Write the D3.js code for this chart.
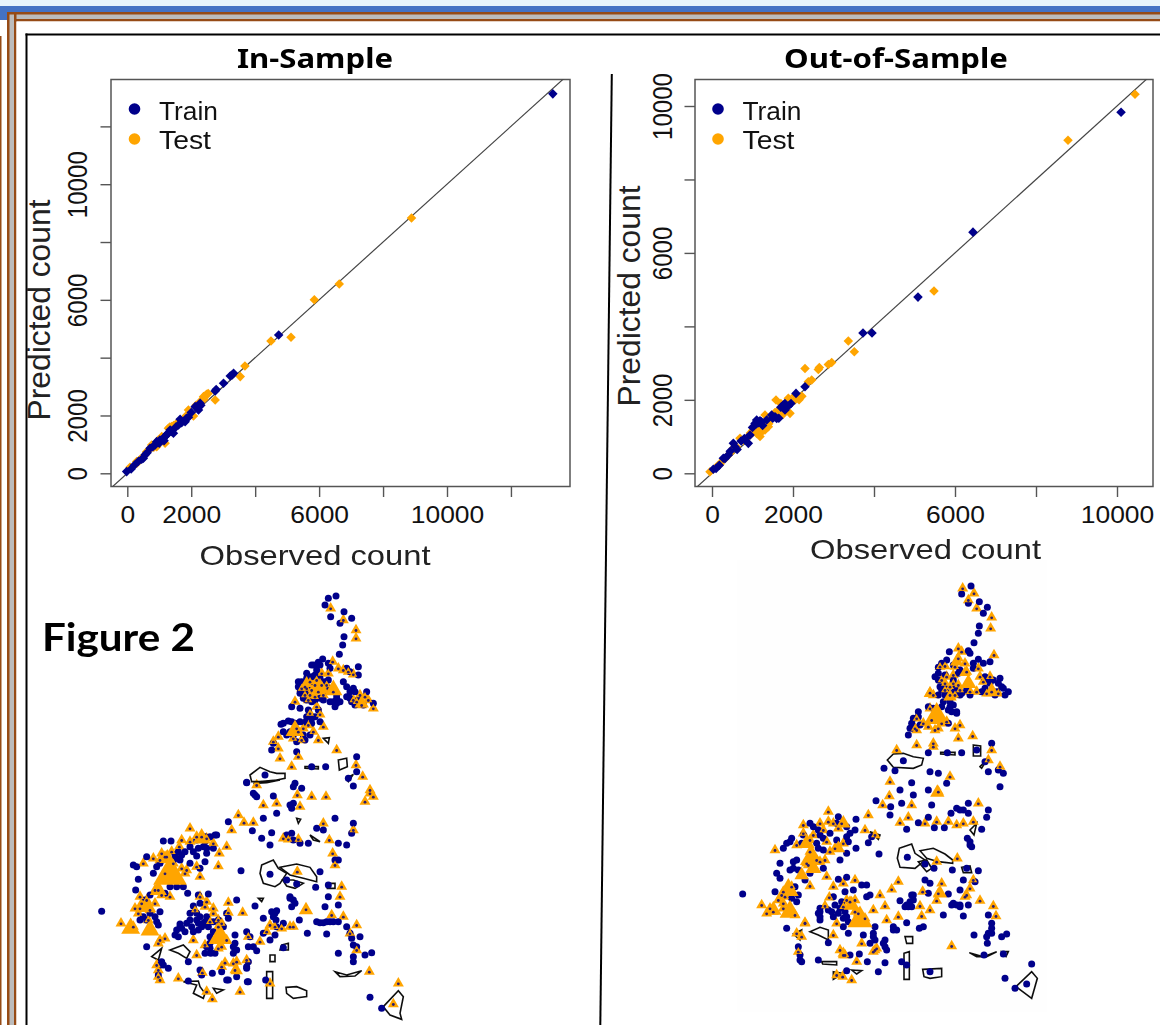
<!DOCTYPE html>
<html><head><meta charset="utf-8">
<script src="https://cdn.jsdelivr.net/npm/d3@7"></script>
<style>html,body{margin:0;padding:0;background:#fff;overflow:hidden}svg{display:block}</style>
</head><body><svg id="c" width="1160" height="1025"></svg>
<script>
const NAVY="#00008b", ORANGE="#ffa500";
const tickValues=[0,2000,4000,6000,8000,10000,12000];
const labelledTicks=[0,2000,6000,10000];
const seriesNames=["Train","Test"];

// Scatter values: [observed, predicted]
const inTest=[[8890,8830],[6630,6550],[5850,6000],[5121,4704],[4494,4577],[3679,3713],[3533,3344],[2749,2537],[2488,2733],[2384,2652],[1913,2191],[2070,1983],[1391,1614],[1548,1730],[1286,1557],[1077,1268],[972,1153],[606,749],[294,404],[85,208],[764,980],[1182,1038],[920,922],[1756,1868],[2279,2479],[1450,1650],[1330,1600],[300,350],[400,480],[520,600],[680,820],[830,900],[1000,1130],[1100,1200],[1200,1300],[1380,1500],[1500,1600],[1650,1800],[1850,2000],[1980,2100],[2150,2350],[2400,2560],[2530,2760],[2450,2700]];
const inTrain=[[13310,13125],[4735,4785],[3010,3113],[3324,3459],[3220,3367],[2749,2848],[2279,2421],[2122,2306],[2227,2191],[1913,1937],[1652,1868],[1809,1787],[1286,1384],[1443,1384],[920,1095],[712,865],[450,484],[-20,58],[1130,1211],[868,980],[503,519],[1600,1672],[1339,1499],[120,150],[220,280],[350,420],[560,640],[620,710],[800,920],[1000,1040],[1020,1150],[1180,1270],[1240,1350],[1380,1450],[1520,1600],[1700,1750],[1850,1900],[2000,2100],[2180,2280],[2300,2350],[3280,3400],[2780,2900],[1150,1130]];
const outTest=[[8790,9070],[10445,10320],[5481,4961],[3366,3600],[3514,3309],[2296,2856],[2650,2883],[2955,3019],[2873,2965],[2461,2538],[1926,1632],[2173,2085],[1885,2040],[1580,1994],[2050,1994],[1309,1586],[1391,1269],[1309,1178],[691,951],[1021,1178],[1103,1087],[527,679],[280,362],[157,226],[-49,44],[1638,1722],[897,1000],[445,543],[1185,1000],[2626,2829],[2379,2493],[200,250],[350,430],[600,720],[780,900],[950,1100],[1120,1200],[1250,1150],[1400,1350],[1450,1500],[1550,1650],[1750,1600],[2050,2120],[2150,2000],[2220,2100],[1700,1900],[1000,1150]];
const outTrain=[[10100,9830],[6444,6566],[5086,4797],[3728,3817],[3951,3817],[2296,2357],[2074,2176],[1761,1858],[1885,1831],[1803,1722],[1556,1541],[1185,1432],[1062,1359],[1473,1586],[938,1042],[897,815],[568,725],[403,498],[280,407],[33,108],[1103,1450],[1597,1495],[815,906],[527,815],[100,130],[180,220],[320,400],[450,600],[620,650],[720,880],[800,950],[1000,1250],[1150,1380],[1250,1300],[1350,1450],[1500,1500],[1650,1500],[1700,1800],[1800,1900],[1950,1900],[1100,1350],[1220,1400]];

// Map sites, south part of each map: [grid x, grid y]; big = [grid x, grid y, marker side]
const leftSouthTrain=[[470,8],[490,40],[500,50],[550,48],[610,20],[635,25],[790,18],[610,70],[605,85],[560,100],[520,115],[415,125],[487,152],[545,158],[515,175],[540,195],[605,160],[655,190],[680,145],[700,150],[735,115],[790,130],[785,160],[770,195],[745,190],[630,190],[220,183],[243,183],[375,165],[345,185],[370,205],[260,235],[275,225],[320,228],[350,220],[345,245],[330,265],[300,250],[170,230],[130,255],[140,260],[145,298],[137,330],[35,394],[180,345],[210,395],[195,410],[293,340],[325,345],[355,342],[330,370],[310,378],[300,400],[290,430],[270,440],[265,470],[255,465],[320,420],[335,440],[350,410],[325,450],[370,455],[360,505],[362,520],[345,520],[295,545],[170,500],[415,415],[435,465],[440,510],[430,520],[470,455],[480,470],[490,500],[500,512],[520,415],[495,378],[540,480],[555,400],[560,392],[558,420],[600,350],[610,360],[605,380],[628,420],[652,460],[710,462],[680,425],[700,428],[720,425],[745,425],[705,380],[715,350],[677,322],[715,315],[745,375],[690,275],[620,312],[590,300],[540,283],[453,272],[745,240],[735,240],[840,652],[875,685],[745,520],[790,545],[825,525],[845,518],[810,470],[770,440],[790,495],[472,605],[415,600],[527,600],[470,565],[475,545],[395,575],[367,580],[330,570],[235,565],[215,545],[580,503],[295,603],[440,590],[440,360],[410,400],[300,420],[330,410],[340,430],[260,450],[275,445],[270,432],[350,500],[610,180],[255,225],[265,215],[250,240],[270,240],[285,215],[300,200],[320,180],[360,170],[345,170],[380,165],[340,200],[350,205],[325,205],[310,215],[200,260],[210,250],[190,280],[225,340],[240,320],[260,320],[280,320],[165,360],[180,400],[160,410],[150,420],[170,420],[200,425],[205,435],[320,400],[325,430],[345,425],[305,440],[285,455],[310,455],[355,440],[370,425],[385,420],[400,440],[430,500],[435,490],[470,560],[475,500],[545,395],[550,410],[600,355],[615,370],[690,428],[710,425],[730,425],[780,460],[785,475],[800,500],[790,530],[360,470],[375,520],[360,490],[410,600],[335,585],[220,555],[205,585],[210,555],[475,605],[600,75],[495,45],[590,165],[520,460],[555,465],[560,440],[580,430]];
const leftSouthTest=[[500,15],[622,45],[665,50],[708,50],[840,30],[825,65],[850,50],[445,105],[462,128],[490,128],[425,150],[560,70],[520,75],[630,80],[700,130],[790,150],[580,175],[595,178],[625,178],[718,180],[728,220],[735,255],[300,145],[335,170],[300,185],[230,230],[190,235],[160,250],[268,200],[410,200],[388,220],[385,258],[320,260],[290,270],[330,290],[285,280],[150,350],[205,330],[240,350],[150,385],[135,385],[195,370],[93,430],[130,440],[210,480],[330,350],[350,365],[370,385],[415,368],[315,390],[415,398],[458,398],[385,440],[310,480],[345,495],[385,505],[320,525],[475,470],[510,485],[540,435],[575,445],[610,440],[760,410],[800,435],[725,405],[648,388],[755,320],[750,350],[622,275],[800,510],[780,460],[405,548],[470,540],[435,570],[395,560],[205,570],[210,600],[265,595],[337,578],[350,635],[450,635],[367,657],[540,610],[838,575],[925,610],[910,672],[215,220],[245,215],[210,240],[250,250],[225,280],[275,265],[195,330],[215,345],[170,360],[155,370],[145,400],[180,390],[175,420],[205,490],[225,475],[345,380],[370,400],[385,420],[395,430],[360,425],[410,480],[395,500],[225,230],[320,170],[350,175],[370,190],[275,180],[600,440],[555,440],[530,455],[205,590],[200,555],[430,550],[440,545],[840,40]];
const leftSouthBig=[[240,285,75],[205,330,38],[122,445,42],[180,450,42],[390,472,52],[648,390,32],[440,572,28],[170,380,42],[335,175,40],[232,235,36]];
const leftSouthAreas=[[[515,255],[550,240],[565,265],[590,280],[570,310],[555,320],[520,310],[510,280]],[[570,262],[620,252],[660,262],[680,290],[680,305],[640,295],[600,285]],[[578,300],[610,300],[640,310],[615,325],[590,318]],[[240,510],[280,495],[300,515],[290,535],[265,520]],[[185,530],[215,505],[205,540]],[[530,575],[548,575],[548,655],[530,655]],[[588,622],[620,620],[650,632],[650,650],[610,655],[590,640]],[[735,575],[770,585],[815,572],[795,588],[750,590]],[[880,680],[925,632],[940,650],[930,700],[935,718],[900,705]],[[280,605],[325,603],[330,620],[345,640],[340,655],[310,640],[320,615]],[[370,625],[400,630],[380,640]],[[540,525],[555,525],[555,545],[540,545]],[[575,495],[595,490],[595,510],[570,510]],[[710,310],[735,310],[735,325],[712,325]],[[660,165],[690,185],[670,180]],[[620,115],[632,118],[625,130]],[[490,10],[570,0],[530,8]],[[505,355],[520,355],[515,365]]];

const leftNorthTrain=[[288,33],[265,40],[255,60],[272,95],[312,80],[335,100],[300,115],[312,155],[308,180],[298,208],[248,222],[222,240],[270,250],[355,245],[330,260],[355,270],[310,290],[200,265],[180,310],[190,340],[240,340],[290,355],[270,350],[330,320],[345,320],[380,320],[370,360],[335,350],[400,355],[155,365],[180,370],[235,375],[123,418],[155,410],[180,410],[215,415],[130,440],[140,450],[210,450],[240,410],[100,475],[95,495],[170,500],[257,545],[350,515],[350,560],[325,580],[75,570],[20,592],[215,545],[165,595],[210,300],[185,290],[230,255],[240,240],[290,330],[270,310],[175,290],[175,305],[190,320],[205,320],[200,280],[215,275],[225,270],[240,280],[255,290],[265,285],[255,320],[250,345],[225,345],[215,350],[200,345],[180,325],[290,340],[280,350],[300,350],[285,365],[320,305],[340,310],[320,335],[355,345],[345,360],[330,340],[215,240],[235,232],[205,375],[225,395],[200,395],[165,415],[145,408],[130,415],[195,412],[190,450],[170,470],[195,465],[215,400],[160,450],[150,440],[265,235],[320,250]];
const leftNorthTest=[[272,70],[310,105],[348,135],[348,160],[278,230],[310,255],[340,268],[245,265],[210,290],[195,305],[225,300],[235,320],[210,330],[280,320],[165,350],[230,365],[210,385],[240,388],[360,330],[375,335],[365,360],[400,370],[175,440],[205,420],[250,425],[185,465],[115,455],[100,470],[115,490],[235,465],[290,495],[175,515],[155,545],[348,540],[368,575],[120,520],[200,310],[215,315],[250,330],[260,300],[230,285],[265,265],[245,300],[205,345],[195,330],[225,335],[185,310],[170,430],[160,460],[190,430],[220,440],[350,350],[385,345],[340,345],[295,250],[325,260]];
const leftNorthBig=[[165,437,42],[240,310,40],[280,315,40],[225,310,30],[200,295,28],[365,355,32]];
const leftNorthAreas=[[[30,570],[60,547],[90,560],[110,565],[135,565],[135,580],[110,585],[60,590],[35,590]],[[295,525],[320,520],[322,545],[298,555]],[[195,545],[235,545],[235,552],[195,550]],[[250,460],[268,458],[265,475]],[[318,580],[340,568],[325,590]]];

const rightSouthTrain=[[38,342],[150,250],[140,280],[150,295],[135,335],[180,185],[160,205],[240,130],[220,165],[378,118],[375,150],[350,170],[378,205],[320,180],[355,185],[330,240],[350,220],[190,265],[205,345],[170,445],[195,320],[325,298],[350,292],[410,315],[395,315],[345,335],[370,330],[310,350],[270,385],[270,410],[315,375],[330,385],[265,400],[295,390],[340,440],[355,460],[295,488],[400,465],[430,460],[435,440],[465,480],[465,500],[412,545],[388,522],[360,525],[265,540],[210,540],[205,500],[445,575],[465,548],[515,545],[530,555],[490,450],[510,362],[545,345],[550,360],[535,380],[530,428],[585,300],[600,310],[595,340],[640,405],[655,342],[700,408],[680,375],[665,375],[690,375],[715,375],[732,465],[775,460],[785,445],[815,470],[830,462],[772,490],[775,405],[745,272],[735,305],[700,300],[690,330],[710,265],[667,270],[612,265],[585,252],[532,232],[447,222],[415,188],[425,170],[438,62],[480,105],[482,80],[515,70],[595,112],[530,148],[565,128],[613,143],[643,143],[712,175],[720,195],[755,148],[663,100],[680,85],[715,70],[690,90],[715,100],[775,90],[770,112],[810,20],[650,10],[545,8],[510,30],[550,45],[595,30],[605,75],[905,552],[825,595],[855,625],[890,612],[762,525],[820,522],[600,575],[350,572],[568,445],[580,440],[250,140],[265,150],[270,165],[280,175],[260,190],[265,205],[280,210],[300,160],[320,130],[325,110],[350,140],[360,160],[190,245],[200,240],[180,270],[205,270],[225,300],[240,280],[280,265],[215,190],[185,175],[170,190],[335,365],[345,395],[325,400],[305,395],[310,410],[350,410],[355,425],[420,345],[410,350],[430,470],[435,480],[420,490],[460,490],[470,510],[490,440],[550,345],[540,365],[720,185],[725,200],[785,430],[785,460],[770,470],[700,90],[210,525],[215,545],[185,355],[200,365],[270,420],[340,415],[270,395],[500,450],[530,375],[545,380],[525,380],[690,380],[670,370]];
const rightSouthTest=[[295,95],[335,130],[270,130],[220,135],[135,210],[200,195],[295,125],[250,165],[290,185],[340,190],[230,250],[285,240],[290,290],[240,318],[310,320],[340,310],[375,300],[405,150],[435,165],[458,75],[415,105],[478,48],[545,75],[510,128],[535,112],[585,130],[620,125],[655,125],[680,135],[700,130],[745,70],[730,125],[505,305],[485,328],[635,310],[578,335],[450,345],[298,352],[340,380],[360,365],[285,378],[465,378],[430,390],[470,420],[505,410],[575,408],[600,390],[570,378],[620,362],[705,350],[720,325],[750,362],[790,378],[798,408],[665,498],[395,490],[310,465],[320,430],[205,515],[200,460],[225,428],[130,395],[95,375],[160,370],[155,345],[435,510],[380,545],[340,525],[320,585],[365,600],[338,590],[682,235],[620,245],[625,35],[480,5],[220,160],[240,180],[280,150],[310,130],[325,145],[240,215],[260,240],[235,255],[270,245],[300,215],[315,205],[185,320],[160,335],[165,350],[145,360],[120,385],[110,400],[160,385],[195,405],[375,395],[385,400],[405,415],[350,360],[375,360],[225,430],[215,470],[345,525],[330,510],[440,505],[430,515],[625,340],[710,345],[730,300]];
const rightSouthBig=[[245,235,52],[215,285,32],[175,330,46],[130,390,36],[180,395,46],[390,420,56],[365,375,36],[230,190,36],[630,340,32],[340,520,26],[340,130,32],[622,38,32],[250,265,36],[325,205,30]];
const rightSouthAreas=[[[508,205],[545,192],[555,220],[585,240],[555,265],[510,262],[502,235]],[[570,212],[610,205],[645,222],[668,240],[668,250],[625,245],[590,235]],[[565,245],[590,240],[605,265],[590,275]],[[240,455],[270,442],[295,450],[295,480],[265,465]],[[190,462],[215,450],[210,480]],[[522,520],[538,515],[538,598],[522,598]],[[578,568],[635,565],[635,590],[600,595],[582,590]],[[718,518],[760,530],[800,515],[770,530],[740,530]],[[858,620],[905,575],[922,595],[905,655],[885,640]],[[275,545],[320,545],[320,555],[278,552]],[[365,570],[395,572],[380,582]],[[525,470],[548,470],[548,490],[530,490]],[[695,262],[720,258],[725,278],[700,278]],[[420,155],[450,165],[445,178]],[[720,150],[740,130],[732,165]],[[815,515],[835,515],[828,530]],[[310,575],[340,580],[310,598]]];

const rightNorthTrain=[[303,18],[275,42],[295,70],[328,65],[352,82],[340,100],[328,138],[325,160],[312,188],[238,215],[295,212],[325,238],[360,245],[340,250],[230,240],[205,262],[195,290],[205,300],[215,330],[255,340],[205,345],[345,290],[390,295],[395,320],[415,335],[405,345],[380,335],[335,335],[240,365],[220,365],[260,395],[235,390],[145,395],[125,430],[115,465],[130,445],[235,430],[175,518],[232,518],[275,518],[100,542],[42,565],[75,572],[180,575],[205,580],[365,490],[355,575],[345,545],[385,570],[400,580],[320,510],[250,300],[310,265],[270,270],[240,340],[290,330],[355,295],[370,300],[215,250],[225,285],[210,320],[225,325],[225,345],[255,325],[270,345],[265,280],[310,250],[300,220],[345,300],[360,310],[385,310],[375,345],[400,325],[345,325],[300,345],[275,340],[205,280],[240,380],[250,375],[250,255],[130,415],[120,445],[150,435],[145,410],[175,380],[215,380],[190,385],[260,400],[245,395]];
const rightNorthTest=[[278,25],[312,40],[295,60],[320,85],[365,112],[362,145],[265,205],[265,235],[372,225],[225,258],[325,265],[250,285],[290,275],[360,290],[240,320],[265,315],[215,300],[340,305],[180,338],[240,345],[300,335],[365,335],[180,385],[140,415],[135,445],[205,445],[230,425],[270,435],[255,445],[265,475],[308,468],[140,495],[190,490],[80,510],[365,510],[355,540],[390,560],[240,590],[210,260],[255,260],[275,215],[285,250],[230,290],[225,310],[250,310],[270,330],[255,345],[225,330],[190,345],[330,290],[350,340],[385,340],[320,335],[185,420],[215,430],[175,440],[195,450],[160,430],[190,500],[140,450]];
const rightNorthBig=[[200,410,56],[285,278,26],[295,310,36],[240,350,30],[260,245,30],[365,335,36],[180,340,28]];
const rightNorthAreas=[[[52,540],[70,522],[100,520],[130,530],[160,535],[155,555],[130,565],[70,562]],[[310,495],[332,498],[332,528],[310,528]],[[212,517],[255,517],[255,525],[212,522]],[[330,560],[350,540],[335,565]]];

const svg=d3.select("#c");
const defs=svg.append("defs");
defs.append("filter").attr("id","soft").attr("x","-5%").attr("y","-5%").attr("width","110%").attr("height","110%")
  .append("feGaussianBlur").attr("stdDeviation",0.45);
const SANS="'Liberation Sans',Arial,sans-serif";

function rect(x,y,w,h,fill){svg.append("rect").attr("x",x).attr("y",y).attr("width",w).attr("height",h).attr("fill",fill);}
function text(g,s,x,y,o){
  const t=g.append("text").text(s).attr("x",x).attr("y",y)
    .attr("font-family",o.family||SANS).attr("font-size",o.size).attr("fill",o.fill||"#111")
    .attr("font-weight",o.weight||"normal").attr("text-anchor",o.anchor||"start");
  if(o.len){t.attr("textLength",o.len).attr("lengthAdjust","spacingAndGlyphs");}
  if(o.rotate){t.attr("transform",`rotate(-90 ${x} ${y})`);}
  return t;
}

// page frame
rect(0,0,1160,6,"#e6f3fc");
rect(0,6,1160,6,"#4472c4");
rect(0,12,7,8,"#4472c4");
rect(7,12,1153,9.5,"#964b16");
rect(9.5,14.5,1151,4.5,"#bcbcbc");
rect(7,12,9.5,1013,"#964b16");
rect(9.5,14.5,4.5,1011,"#bcbcbc");
rect(16.5,21.5,1144,1004,"#fff");
rect(0,36,1.5,989,"#964b16");
rect(25.5,33.5,1135,2,"#000");
rect(25.5,33.5,2,992,"#000");
svg.append("line").attr("x1",611.8).attr("y1",74).attr("x2",600.3).attr("y2",1025).attr("stroke","#000").attr("stroke-width",2);

function scatter(cfg){
  const x=d3.scaleLinear().domain([0,10000]).range([cfg.x0,cfg.x10]);
  const y=d3.scaleLinear().domain([0,10000]).range([cfg.y0,cfg.y10]);
  const g=svg.append("g");
  const fmt=d=>labelledTicks.includes(d)?d:"";
  const xt=tickValues.filter(v=>x(v)<cfg.right), yt=tickValues.filter(v=>y(v)>cfg.top);
  const ax=d3.axisBottom(x).tickValues(xt).tickFormat(fmt).tickSize(10.5).tickPadding(5);
  const ay=d3.axisLeft(y).tickValues(yt).tickFormat(fmt).tickSize(10.5).tickPadding(5);
  const gx=g.append("g").attr("transform",`translate(0,${cfg.bottom})`).call(ax);
  const gy=g.append("g").attr("transform",`translate(${cfg.left},0)`).call(ay);
  [gx,gy].forEach(a=>{a.select(".domain").remove();
    a.selectAll(".tick line").attr("stroke","#555").attr("stroke-width",1.4);
    a.selectAll("text").attr("font-family",SANS).attr("fill","#111");});
  gx.selectAll("text").attr("font-size",24).attr("dy",null).attr("y",36).each(function(d){
    const s=String(fmt(d));
    if(s) d3.select(this).attr("textLength",s.length*14.7).attr("lengthAdjust","spacingAndGlyphs");
  });
  gy.selectAll("text").attr("font-size",28).attr("dy",null).attr("x",null).attr("y",null).attr("text-anchor","middle")
    .attr("transform",`translate(${cfg.yTickBase-cfg.left},0) rotate(-90)`).each(function(d){
    const s=String(fmt(d));
    if(s) d3.select(this).attr("textLength",s.length*13.4).attr("lengthAdjust","spacingAndGlyphs");
  });
  g.append("rect").attr("x",cfg.left).attr("y",cfg.top).attr("width",cfg.right-cfg.left).attr("height",cfg.bottom-cfg.top)
    .attr("fill","none").attr("stroke","#555").attr("stroke-width",1.5);
  const clipId="clip"+cfg.id;
  defs.append("clipPath").attr("id",clipId).append("rect").attr("x",cfg.left).attr("y",cfg.top).attr("width",cfg.right-cfg.left).attr("height",cfg.bottom-cfg.top);
  const pg=g.append("g").attr("clip-path",`url(#${clipId})`);
  const lo=x.invert(cfg.left-20), hi=x.invert(cfg.right+20);
  pg.append("line").attr("x1",x(lo)).attr("y1",y(lo)).attr("x2",x(hi)).attr("y2",y(hi)).attr("stroke","#444").attr("stroke-width",1.2);
  const sym=d3.symbol().type(d3.symbolDiamond2).size(58);
  const marks=pg.append("g").attr("filter","url(#soft)");
  [[cfg.test,ORANGE],[cfg.train,NAVY]].forEach(([data,c])=>{
    marks.selectAll(null).data(data).join("path").attr("d",sym)
      .attr("transform",d=>`translate(${x(d[0])},${y(d[1])})`).attr("fill",c);
  });
  // legend
  [[seriesNames[0],NAVY,109,120],[seriesNames[1],ORANGE,139,149]].forEach(([n,c,cy,by])=>{
    g.append("circle").attr("cx",cfg.legendX).attr("cy",cy).attr("r",5.8).attr("fill",c);
    text(g,n,cfg.legendX+24.5,by,{size:25,len:n==="Train"?59:52});
  });
  text(svg,cfg.title,cfg.titleX,68,{family:"'Noto Sans',sans-serif",weight:"bold",size:27,anchor:"middle",len:cfg.titleLen,fill:"#000"});
  text(svg,"Observed count",cfg.obsX,cfg.obsY,{size:28,anchor:"middle",len:231,fill:"#222"});
  text(svg,"Predicted count",cfg.predX,cfg.predY,{size:32,anchor:"middle",len:221,rotate:true,fill:"#222"});
}

scatter({id:"a",title:"In-Sample",titleX:315,titleLen:156,left:111,right:570,top:79.5,bottom:486.5,
  x0:127.3,x10:447,y0:473.3,y10:184.2,yTickBase:86.5,legendX:134.5,test:inTest,train:inTrain,
  obsX:315,obsY:565,predX:50,predY:310});
scatter({id:"b",title:"Out-of-Sample",titleX:896,titleLen:224,left:695,right:1153,top:79.5,bottom:486.5,
  x0:712,x10:1117,y0:473.3,y10:106,yTickBase:671.5,legendX:718,test:outTest,train:outTrain,
  obsX:925.5,obsY:559,predX:640,predY:296});

text(svg,"Figure 2",42,651,{family:"Lato,sans-serif",weight:"bold",size:39,len:153,fill:"#000"});

// faint panel behind the right map
rect(737,560,310,452,"#fefefe");

function mapPart(cfg){
  const x=d3.scaleLinear().domain(cfg.dx).range(cfg.rx);
  const y=d3.scaleLinear().domain(cfg.dy).range(cfg.ry);
  const side=d3.scaleLinear().domain([0,3]).range([0,1]);
  const line=d3.line().x(d=>x(d[0])).y(d=>y(d[1])).curve(d3.curveLinearClosed);
  const g=svg.append("g").attr("filter","url(#soft)");
  g.selectAll(null).data(cfg.areas).join("path").attr("d",line).attr("fill","none").attr("stroke","#111").attr("stroke-width",1.6);
  const tri=s=>d3.symbol().type(d3.symbolTriangle).size(0.433*s*s)();
  g.selectAll(null).data(cfg.test).join("path").attr("d",tri(11))
    .attr("transform",d=>`translate(${x(d[0])},${y(d[1])})`).attr("fill",ORANGE);
  g.selectAll(null).data(cfg.train).join("circle").attr("cx",d=>x(d[0])).attr("cy",d=>y(d[1])).attr("r",3.5).attr("fill",NAVY);
  g.selectAll(null).data(cfg.test).join("path").attr("d",tri(8))
    .attr("transform",d=>`translate(${x(d[0])},${y(d[1])})`).attr("fill",ORANGE);
  g.selectAll(null).data(cfg.big).join("path").attr("d",d=>tri(side(d[2])*1.35))
    .attr("transform",d=>`translate(${x(d[0])},${y(d[1])})`).attr("fill",ORANGE);
  g.selectAll(null).data(cfg.test).join("circle").attr("cx",d=>x(d[0])).attr("cy",d=>y(d[1])+0.5).attr("r",1.4).attr("fill","#2a1a70");
}
mapPart({dx:[0,990],rx:[90,420],dy:[0,735],ry:[780,1025],train:leftSouthTrain,test:leftSouthTest,big:leftSouthBig,areas:leftSouthAreas});
mapPart({dx:[0,450],rx:[240,390],dy:[0,600],ry:[585,785],train:leftNorthTrain,test:leftNorthTest,big:leftNorthBig,areas:leftNorthAreas});
mapPart({dx:[0,990],rx:[730,1060],dy:[0,735],ry:[780,1025],train:rightSouthTrain,test:rightSouthTest,big:rightSouthBig,areas:rightSouthAreas});
mapPart({dx:[0,480],rx:[870,1030],dy:[0,600],ry:[580,780],train:rightNorthTrain,test:rightNorthTest,big:rightNorthBig,areas:rightNorthAreas});
</script></body></html>
